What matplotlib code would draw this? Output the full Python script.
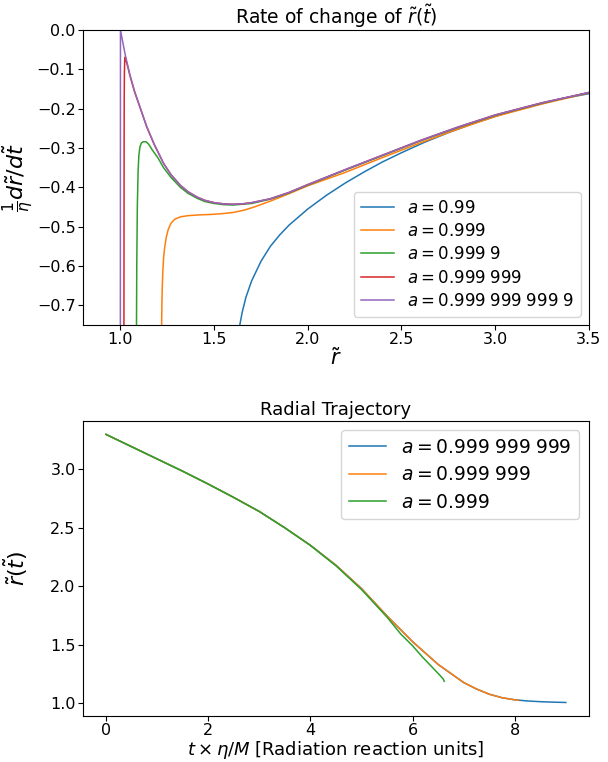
import matplotlib
matplotlib.use("Agg")
import matplotlib.pyplot as plt

# ---- top panel: (1/eta) dr/dt against r, one curve per spin ----
r_a99 = [1.63, 1.635, 1.65, 1.67, 1.7, 1.75, 1.8, 1.85, 1.9, 2.0, 2.1, 2.2, 2.3, 2.4,
         2.5, 2.62, 2.75, 2.9, 3.05, 3.2, 3.35, 3.5]
v_a99 = [-0.775, -0.755, -0.717, -0.679, -0.638, -0.588, -0.550, -0.521, -0.496, -0.455,
         -0.420, -0.389, -0.361, -0.335, -0.312, -0.286, -0.261, -0.235, -0.212, -0.193,
         -0.175, -0.162]

r_a999 = [1.2195, 1.221, 1.223, 1.226, 1.23, 1.236, 1.244, 1.255, 1.27, 1.29, 1.32, 1.36,
          1.42, 1.48, 1.54, 1.6, 1.66, 1.72, 1.8, 1.9, 2.0, 2.2, 2.4, 2.6, 2.8, 3.0, 3.25, 3.5]
v_a999 = [-0.76, -0.70, -0.655, -0.615, -0.58, -0.553, -0.528, -0.507, -0.491, -0.481, -0.475, -0.472,
          -0.470, -0.469, -0.467, -0.464, -0.458, -0.449, -0.435, -0.416, -0.396, -0.362, -0.324,
          -0.287, -0.252, -0.220, -0.188, -0.160]

r_a9999 = [1.0855, 1.087, 1.09, 1.094, 1.098, 1.104, 1.112, 1.122, 1.136, 1.15, 1.17, 1.2,
           1.23, 1.27, 1.32, 1.36, 1.41, 1.45, 1.5, 1.55, 1.6, 1.7, 1.8, 1.9, 2.0, 2.2, 2.4,
           2.6, 2.8, 3.0, 3.25, 3.5]
v_a9999 = [-0.76, -0.60, -0.45, -0.36, -0.32, -0.297, -0.287, -0.284, -0.284, -0.290, -0.305, -0.325,
           -0.350, -0.375, -0.400, -0.415, -0.428, -0.436, -0.441, -0.444, -0.445, -0.441, -0.430,
           -0.414, -0.394, -0.356, -0.319, -0.282, -0.248, -0.217, -0.186, -0.159]

r_a6 = [1.0185, 1.019, 1.0195, 1.02, 1.021, 1.0225, 1.024, 1.026, 1.03, 1.04, 1.05, 1.075,
        1.1, 1.14, 1.18, 1.23, 1.27, 1.32, 1.36, 1.41, 1.45, 1.5, 1.55, 1.6, 1.65, 1.7, 1.8,
        1.9, 2.0, 2.2, 2.4, 2.6, 2.8, 3.0, 3.25, 3.5]
v_a6 = [-0.76, -0.5, -0.3, -0.18, -0.11, -0.08, -0.069, -0.07, -0.078, -0.095, -0.115, -0.157,
        -0.191, -0.246, -0.291, -0.339, -0.368, -0.395, -0.411, -0.425, -0.433, -0.439, -0.442,
        -0.443, -0.442, -0.439, -0.429, -0.413, -0.393, -0.355, -0.318, -0.281, -0.247, -0.216,
        -0.185, -0.159]

r_a10 = [0.9995, 1.0, 1.01, 1.025, 1.05, 1.075, 1.1, 1.14, 1.18, 1.23, 1.27, 1.32, 1.36, 1.41,
         1.45, 1.5, 1.55, 1.6, 1.65, 1.7, 1.8, 1.9, 2.0, 2.2, 2.4, 2.6, 2.8, 3.0, 3.25, 3.5]
v_a10 = [-0.76, 0.0, -0.025, -0.062, -0.113, -0.155, -0.19, -0.245, -0.29, -0.339, -0.368,
         -0.395, -0.411, -0.425, -0.433, -0.439, -0.442, -0.443, -0.442, -0.439, -0.429, -0.413,
         -0.393, -0.355, -0.318, -0.281, -0.247, -0.216, -0.185, -0.159]

top_labels = [r"$a = 0.99$", r"$a = 0.999$", r"$a = 0.999\;9$",
              r"$a = 0.999\;999$", r"$a = 0.999\;999\;999\;9$"]

# ---- bottom panel: r(t) ----
t_a9 = [0, 0.5, 1, 1.5, 2, 2.5, 3, 3.5, 4, 4.5, 5, 5.5, 6, 6.5, 7, 7.25, 7.5, 7.75, 8,
        8.25, 8.5, 8.75, 9]
r_a9 = [3.30, 3.195, 3.09, 2.985, 2.875, 2.76, 2.64, 2.50, 2.35, 2.18, 1.98, 1.745, 1.525,
        1.33, 1.175, 1.12, 1.075, 1.045, 1.027, 1.017, 1.011, 1.007, 1.004]

t_b6 = [0, 0.5, 1, 1.5, 2, 2.5, 3, 3.5, 4, 4.5, 5, 5.5, 6, 6.5, 7, 7.25, 7.5, 7.75, 8, 8.07]
r_b6 = [3.30, 3.195, 3.09, 2.985, 2.875, 2.76, 2.64, 2.50, 2.35, 2.18, 1.98, 1.745, 1.525,
        1.33, 1.175, 1.12, 1.075, 1.045, 1.027, 1.023]

t_b3 = [0, 0.5, 1, 1.5, 2, 2.5, 3, 3.5, 4, 4.5, 5, 5.5, 5.77, 6.0, 6.2, 6.42, 6.55, 6.6, 6.62]
r_b3 = [3.30, 3.195, 3.09, 2.985, 2.875, 2.76, 2.64, 2.50, 2.35, 2.175, 1.972, 1.735, 1.59,
        1.49, 1.39, 1.29, 1.23, 1.205, 1.186]

bottom_labels = [r"$a = 0.999\;999\;999$", r"$a = 0.999\;999$", r"$a = 0.999$"]

fig = plt.figure(figsize=(6.08, 7.62), dpi=100)
ax1 = fig.add_axes([0.1365, 0.5735, 0.832, 0.3871])
ax2 = fig.add_axes([0.1365, 0.0605, 0.832, 0.3870])

top_r = [r_a99, r_a999, r_a9999, r_a6, r_a10]
top_v = [v_a99, v_a999, v_a9999, v_a6, v_a10]
for i in range(len(top_r)):
    ax1.plot(top_r[i], top_v[i], color="C%d" % i, lw=1.1, label=top_labels[i])
ax1.set_xlim(0.8, 3.5)
ax1.set_ylim(-0.75, 0.0)
ax1.set_title(r"Rate of change of $\tilde{r}(\tilde{t})$", fontsize=13.5, pad=4)
ax1.set_xlabel(r"$\tilde{r}$", fontsize=15, labelpad=0)
ax1.set_ylabel(r"$\frac{1}{\eta}d\tilde{r}/d\tilde{t}$", fontsize=16)
ax1.yaxis.set_label_coords(-0.092, 0.5)
ax1.tick_params(labelsize=11.5, length=3.5, pad=1.8)
ax1.legend(loc="lower right", fontsize=12, labelspacing=0.32)

ax2.plot(t_a9, r_a9, color="C0", lw=1.1, label=bottom_labels[0])
ax2.plot(t_b6, r_b6, color="C1", lw=1.1, label=bottom_labels[1])
ax2.plot(t_b3, r_b3, color="C2", lw=1.1, label=bottom_labels[2])
ax2.set_title("Radial Trajectory", fontsize=13, pad=4)
ax2.set_xlabel(r"$t \times \eta/M$ [Radiation reaction units]", fontsize=13, labelpad=0.5)
ax2.set_ylabel(r"$\tilde{r}(\tilde{t})$", fontsize=16)
ax2.yaxis.set_label_coords(-0.105, 0.5)
ax2.tick_params(labelsize=11.5, length=3.5, pad=1.8)
ax2.legend(loc="upper right", fontsize=13.5, labelspacing=0.45)

fig.savefig("out.png", dpi=100)
